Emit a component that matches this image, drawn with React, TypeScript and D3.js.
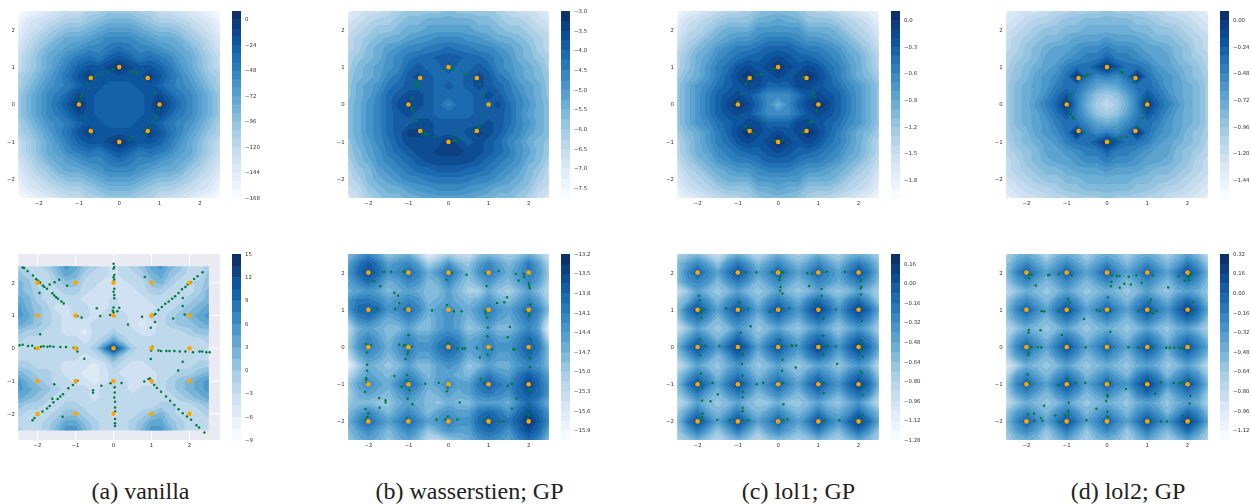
import React, { useMemo } from 'react';
import * as d3 from 'd3';

// critic values, one char per grid point = index of the contour band (base 36)
// rows run from y=2.5 down to y=-2.5, columns from x=-2.5 to x=2.5, step 0.25
const vanillaRing = [
  '0123455778' + '8' + '8775543210',
  '134567789a' + 'a' + 'a987765431',
  '2457899abc' + 'c' + 'cba9987542',
  '3578abbcde' + 'e' + 'edcbba8753',
  '468abcdeef' + 'g' + 'feedcba864',
  '579bcefgfh' + 'i' + 'hfgfecb975',
  '579bdfhiij' + 'l' + 'jiihfdb975',
  '78acegikii' + 'i' + 'iikigeca87',
  '79bdefhiih' + 'h' + 'hiihfedb97',
  '8acefhjihh' + 'h' + 'hhijhfeca8',
  '8acegilihh' + 'h' + 'hhiligeca8',
  '8acefhjihh' + 'h' + 'hhijhfeca8',
  '79bdefhiih' + 'h' + 'hiihfedb97',
  '78acegikii' + 'i' + 'iikigeca87',
  '579bdfhiij' + 'l' + 'jiihfdb975',
  '579bcefgfh' + 'i' + 'hfgfecb975',
  '468abcdeef' + 'g' + 'feedcba864',
  '3578abbcde' + 'e' + 'edcbba8753',
  '2457899abc' + 'c' + 'cba9987542',
  '134567789a' + 'a' + 'a987765431',
  '0123455778' + '8' + '8775543210',
];
const wassersteinRing = [
  '2344567777' + '8' + '7777654432',
  '3456678899' + '9' + '9988766543',
  '45677899aa' + 'a' + 'aa99877654',
  '567899abbc' + 'c' + 'cbba998765',
  '5689abccdd' + 'e' + 'ddccba9865',
  '6789bcdeef' + 'f' + 'feedcb9876',
  '689abcefee' + 'g' + 'eefecba986',
  '789acdfgfe' + 'e' + 'efgfdca987',
  '79abdefffe' + 'f' + 'efgfedba97',
  '79acefggfe' + 'e' + 'eefgfdca97',
  '89bceghgfe' + 'c' + 'eeffgecb98',
  '89bcefgffe' + 'e' + 'eefffeca98',
  '89bceffggf' + 'f' + 'fffgfecb98',
  '89bcefhhgf' + 'f' + 'fghgfdca98',
  '79acdfgggg' + 'i' + 'gfgfecb987',
  '78abdefggh' + 'h' + 'hggfedba87',
  '689bcdefgg' + 'g' + 'ggfedcb986',
  '578abcdeef' + 'f' + 'feedcba875',
  '5689abccdd' + 'd' + 'ddccba9865',
  '457899abbc' + 'c' + 'cbba998754',
  '34678899aa' + 'a' + 'aa99887643',
];
const lol1Ring = [
  '1234566789' + '9' + '9876654321',
  '24567888aa' + 'b' + 'aa88876542',
  '35679aaacc' + 'c' + 'ccaaa97653',
  '4679abccde' + 'e' + 'edccba9764',
  '579acdeefg' + 'g' + 'gfeedca975',
  '68abdefggh' + 'i' + 'hggfedba86',
  '68acefhihi' + 'k' + 'ihihfeca86',
  '79acegikih' + 'i' + 'hikigeca97',
  '8acdfghiig' + 'g' + 'giihgfdca8',
  '8aceghihfd' + 'd' + 'dfhihgeca8',
  '8acegikigd' + 'a' + 'dgikigeca8',
  '8aceghihfd' + 'd' + 'dfhihgeca8',
  '8acdfghiig' + 'g' + 'giihgfdca8',
  '79acegikih' + 'i' + 'hikigeca97',
  '68acefhihi' + 'k' + 'ihihfeca86',
  '68abdefggh' + 'i' + 'hggfedba86',
  '579acdeefg' + 'g' + 'gfeedca975',
  '4679abccde' + 'e' + 'edccba9764',
  '35679aaacc' + 'c' + 'ccaaa97653',
  '24567888aa' + 'b' + 'aa88876542',
  '1234566789' + '9' + '9876654321',
];
const lol2Ring = [
  '2344566777' + '8' + '7776654432',
  '3456678899' + '9' + '9988766543',
  '45678899aa' + 'a' + 'aa99887654',
  '567899abbb' + 'c' + 'bbba998765',
  '5689abbcdd' + 'e' + 'ddcbba9865',
  '6789bbcdee' + 'g' + 'eedcbb9876',
  '689abceffh' + 'k' + 'hffecba986',
  '789bcdfkfd' + 'e' + 'dfkfdcb987',
  '79abceffdb' + 'a' + 'bdffecba97',
  '79abdfheb8' + '7' + '8behfdba97',
  '79acegkea7' + '5' + '7aekgeca97',
  '79abdfheb8' + '7' + '8behfdba97',
  '79abceffdb' + 'a' + 'bdffecba97',
  '789bcdfkfd' + 'e' + 'dfkfdcb987',
  '689abceffh' + 'k' + 'hffecba986',
  '6789bbcdee' + 'g' + 'eedcbb9876',
  '5689abbcdd' + 'e' + 'ddcbba9865',
  '567899abbb' + 'c' + 'bbba998765',
  '45678899aa' + 'a' + 'aa99887654',
  '3456678899' + '9' + '9988766543',
  '2344566777' + '8' + '7776654432',
];
const vanillaGrid = [
  '544579865434568976445',
  '654468754434457865446',
  '764456644333446754456',
  '765445543333345544457',
  '875444433343334444567',
  '976533443343333445678',
  '986543443444334456789',
  '876543334444323456678',
  '655443324454433444566',
  '544444434585444444445',
  '444444445afa544444444',
  '444444434585444444444',
  '554443332354334444455',
  '765543322343333445567',
  '976544332344333456789',
  '987654443444344456789',
  '876544443444444445678',
  '655445544444444554456',
  '544456654434456754445',
  '444568865444568865444',
  '544579975444579975444',
];
const wassersteinGrid = [
  '8aca78962465478767974',
  'adfdabca68b87aca8ada6',
  'begebcec9beb8bdb9bdb7',
  'acec9acb89c979b98aca6',
  '9aba89a988a8669768a85',
  'bddcabcb89a989b98aca6',
  'befebcec9aca9bdbacec8',
  '8cdb9aca8aba8aca9bdb5',
  '59a988a88aba78a88aca2',
  '6aca8acaacdc9acaacec5',
  '7bdb9bdbbdfdabdbbdfd8',
  '59ba8acaacdc9acaacec8',
  '169878a88aba78a99bcb8',
  '58a98aca8aa98bdbadfda',
  '7aca9cec9acaadfdceheb',
  '69a98aca89a9acdcbefeb',
  '788779a987988aaa9cec9',
  '8aca8aca8abaadedbegeb',
  '9cecacecabdbbegedfifc',
  '8aca8aca79baadedbegea',
  '79a979a855789bcbacec8',
];
const lol1Grid = [
  '678647975797679768986',
  '8aca7bdb8aca8aca8bdb8',
  '8cfcadgdacfcacfcadgd9',
  '8bcb8bdb8aca8acb9bdb8',
  '47a878a878a878a878a86',
  '79db8bdb8bdb9cec9ceb7',
  '8dgdadgdadgdbehebehea',
  '7bdb8bdb8bdb9cec9cec8',
  '47a878b978a879b979b96',
  '7adb8beb8bdb9cec9cec8',
  '9dgdbeheadgdbehebehea',
  '7adb8bec8bdb9cec9cec8',
  '47a879b978a878a979b95',
  '7adb8bdb8aca8bdb9cec7',
  '8dgdadgdacfcadgdbehe9',
  '7ada8bdb8aca8bdb9cec7',
  '57a878a8779778a879b85',
  '7ada8ada8aca8ada9beb8',
  '8dgdadgdacfcadgdbehea',
  '7ada7ada7aca8ada8beb7',
  '679757975787679768a86',
];
const lol2Grid = [
  '689858986898689868a85',
  '7aca8aca8aca8aca8adb7',
  '8cfcacfcacfcacfcadgd9',
  '7aca8aca8aca8aca8bdb8',
  '579878a8789878a879a97',
  '7aca8bdb8aca8bdb9cec8',
  '8cfcadgdacfcadgdbehea',
  '7aca8bdb8aca8bdb9cec8',
  '579878a8789878a879a86',
  '6aca8bdb8aca8bdb8bdb8',
  '7cfcadgdacfcadgdadgda',
  '6aca8bdb8aca8bdb8bdb8',
  '369878a8789879a978a85',
  '5aca8bdb8aca8cec8bdb7',
  '7cfcadgdacfcbehebdgd9',
  '6aca8bdb8aca8cec8bdb7',
  '479878a8789879a979a96',
  '7aca8bdb8aca8bdb8bec8',
  '8cfcadgdacfcadgdbehea',
  '7aca7ada7aca7ada8beb7',
  '689868a8689868a868a86',
];

// generated samples (green)
const vanillaRingPts = [[-.79,.57],[-.6,.75],[-.58,.77],[-.45,.81],[-.27,.89],[-.16,.94],[.28,.89],[.4,.85],[.43,.83],[.89,.3],[-.92,.26],[-.94,.21],[-.98,.11],[-.86,-.39],[.98,-.14],[.91,-.29],[.88,-.38],[.83,-.49],[.76,-.63],[.63,-.77],[.33,-.88],[.23,-.94],[-.68,-.76]];
const wassersteinRingPts = [[-.91,.17],[-.91,-.1],[-.89,-.17],[-.85,-.33],[-.81,-.44],[-.65,-.75],[-.59,-.78],[-.53,-.8],[-.34,-.87],[.15,-.71],[.14,-.97],[.18,-.96],[.28,-.9],[.64,-.75],[.75,-.62],[.79,-.49],[.88,-.27],[.88,.26],[.77,.54],[.49,.79],[.39,.84],[.13,.94],[.09,.96],[-.13,.94],[-.74,.58],[-.78,.54],[-.8,.46],[-.79,.5]];
const lol1RingPts = [[-.08,.96],[-.53,.78],[-.43,.8],[-.77,.64],[-.8,.54],[.4,.84],[.62,.73],[.86,.3],[.91,.21],[.96,-.15],[.83,-.44],[.81,-.48],[.62,-.74],[-.91,.26],[-.99,.08],[-.93,-.28],[-.8,-.59],[-.77,-.67],[-.63,-.77],[-.39,-.44],[-.08,-.97],[.11,-.94]];
const lol2RingPts = [[-.57,.75],[-.52,.79],[-.47,.8],[.13,.95],[.33,.89],[.38,.86],[.66,.6],[.98,.15],[.99,.08],[.95,-.14],[.88,-.37],[.78,-.6],[.48,-.86],[.33,-.88],[.23,-.93],[.08,-1.01],[-.59,-.76],[-.83,-.38],[-.86,-.35],[-.89,-.26],[-.96,-.12],[-.94,.15],[-.88,.29]];
const vanillaGridPts = [[-2.39,2.47],[-2.35,2.45],[-2.26,2.36],[-2.12,2.22],[-2.04,2.12],[-2,2.08],[-1.96,2.03],[-1.93,2],[-1.86,1.92],[-1.82,1.87],[-1.75,1.82],[-1.61,1.68],[-1.56,1.61],[-1.51,1.56],[-1.46,1.51],[-1.37,1.43],[-1.31,1.37],[-1.68,1.95],[-1.55,2.02],[-1.43,2.09],[-1.22,1.91],[-1.95,1.69],
  [0,2.58],[.02,2.48],[0,2.43],[.02,2.24],[0,2.17],[.02,2.1],[0,2.04],[.02,1.82],[0,1.73],[.02,1.63],[.02,1.53],[0,1.25],[-.02,1.15],[0,1.1],[.15,1.24],[.1,1.13],[-.09,1.02],[-.44,1.22],[-.35,.99],[-.84,.94],[-.95,.99],[.38,.73],[.75,.96],
  [2.34,2.32],[2.21,2.2],[2.12,2.12],[2.04,2.02],[1.95,1.95],[1.89,1.87],[1.8,1.8],[1.71,1.69],[1.62,1.59],[1.54,1.51],[1.45,1.43],[1.36,1.36],[1.27,1.26],[1.18,1.17],[1.1,1.05],[1.05,1.02],[.99,.98],[.82,2.18],[1.82,1.54],[1.82,1.29],[1.87,1.03],[1.57,.91],[1.09,.8],[.98,.63],
  [-2.47,.09],[-2.39,.11],[-2.25,.07],[-2.14,.08],[-2.06,0],[-1.91,.05],[-1.84,.06],[-1.74,.05],[-1.67,.06],[-1.58,.05],[-1.4,.04],[-1.25,.04],[-1.05,.02],[-.96,0],[-.95,-.1],[-1.93,.43],[-.77,-.32],
  [.99,-.07],[1.02,.05],[1.18,-.07],[1.25,-.08],[1.39,-.08],[1.47,-.08],[1.6,-.08],[1.74,-.1],[1.89,-.1],[2.09,-.12],[2.26,-.1],[2.33,-.1],[2.44,-.12],[2.53,-.12],[.98,-.33],[1.82,-.41],[1.7,-.68],
  [.81,-1.01],[.92,-.94],[.96,-.92],[1.01,-1.04],[1.07,-1.12],[1.14,-1.21],[1.25,-1.33],[1.38,-1.47],[1.49,-1.6],[1.6,-1.73],[1.71,-1.86],[1.82,-1.98],[1.93,-2.08],[2.04,-2.18],[2.18,-2.35],[2.25,-2.42],[2.39,-2.57],
  [.03,-1.19],[.03,-1.35],[.02,-1.5],[.04,-1.63],[.04,-1.81],[.04,-1.93],[.04,-2.16],[.04,-2.29],[.04,-2.37],[-.08,-1.07],[.21,-1.06],[-.32,-1.14],[-.54,-1.28],[-.54,-1.36],
  [-.95,-.99],[-1,-1.04],[-1.07,-1.12],[-1.19,-1.22],[-1.33,-1.4],[-1.4,-1.47],[-1.47,-1.55],[-1.61,-1.54],[-1.58,-1.65],[-1.68,-1.76],[-1.75,-1.84],[-1.87,-1.93],[-2,-2.04],[-2.08,-2.13],[-2.13,-2.2],[-1.56,-1.1],[-1.34,-2.09]];
const wassersteinGridPts = [[-1.87,1.99],[-1.61,2.02],[-1.43,2.02],[-1.86,1.77],[-1.7,1.63],[-1.13,2.03],[-1.08,2.02],[-.05,1.81],[.09,1.99],[.03,2],[.45,1.94],[.93,1.99],[1.25,2.04],[.95,1.64],[1.68,1.96],[1.88,1.96],[1.88,1.88],[1.75,1.79],[2.01,1.71],[2.01,1.64],[2.03,1.58],[-1.35,1.45],[-1.26,1.38],[-1.23,1.18],[-1.33,1.02],[-1.78,1.04],[-1.09,1.02],[-.41,.98],[-.04,1.13],[.13,.96],[.33,.96],[1.46,1.34],[1.39,1.2],[1.21,1.18],[.93,.97],[.93,.9],[.96,.79],[2.05,1.14],[1.93,.96],[2.03,.88],[2.01,.83],[.98,.52],[1.53,.54],[.97,.29],[1.48,.26],[2.05,.21],[-1,.32],[-1.23,.06],[-1.11,.04],[-1.07,.05],[-.92,.01],[-1.01,-.12],[-1.02,-.18],[-1.07,-.32],[-2.05,.08],[-2.03,.03],[-1.94,.05],[-2.04,-.15],[-.02,.1],[.22,-.04],[.35,-.04],[.41,-.04],[.71,-.03],[1.08,-.06],[.98,-.21],[.78,-.28],[1.62,-.07],[1.65,-.06],[2.03,-.04],[2.05,-.14],[2.03,-.31],[2.03,-.54],[-2.03,-.48],[-2.03,-.64],[-2.05,-.84],[-2.06,-.89],[-2.04,-.97],[-2.08,-1.2],[-1.35,-.78],[-1.04,-.75],[-1.05,-.91],[-1.01,-.95],[-1.17,-1.07],[-.98,-1.16],[-.58,-.99],[-.24,-.96],[-.04,-1.19],[-.02,-1.09],[.81,-.87],[.88,-.97],[1.48,-1.04],[1.58,-.99],[2.03,-1.13],[2.02,-1.18],[1.7,-1.38],[2,-1.55],[1.58,-1.65],[-1.02,-1.39],[-.9,-1.54],[-1.73,-1.37],[-1.57,-1.43],[-1.57,-1.49],[-1.72,-1.63],[.28,-1.49],[-2.07,-1.67],[-2,-1.79],[-2.03,-1.89],[-2.07,-1.96],[-1.03,-1.93],[-.99,-1.97],[-.3,-1.95],[-.08,-1.95],[-.02,-1.87],[.22,-1.95],[.88,-1.96],[.94,-1.97],[1.23,-1.98],[1.38,-2],[1.98,-1.78],[2,-1.84],[1.98,-1.93]];
const lol1GridPts = [[-.8,2],[-.54,2.01],[-.15,2.01],[.07,2.01],[.12,2],[.73,1.98],[.85,1.96],[1.21,2.02],[1.66,2.02],[2.06,1.79],[2.07,1.62],[2.05,1.57],[2.06,1.41],[.05,1.88],[.04,1.8],[.06,1.61],[.05,1.51],[.11,1.44],[.77,1.64],[1.08,1.56],[1.08,1.38],[-1.96,1.38],[-1.94,1.25],[-.95,1.2],[.89,1.16],[-1.91,1.01],[-1.84,1],[-1.91,.92],[-1.91,.78],[-1.29,1.04],[-.93,1.04],[-.74,1.03],[-.2,.95],[.28,1.04],[.09,1.02],[1.12,.76],[1.44,1.01],[2.08,.7],[2.07,1.06],[-.68,.56],[-.93,.38],[-1.94,.21],[-1.81,.04],[-1.46,.03],[-1.93,-.22],[-.84,.04],[-.89,-.18],[-.89,-.21],[-.9,-.46],[.06,.19],[.08,.03],[.33,.04],[.35,.04],[.45,.04],[.11,-.34],[.44,-.55],[1.12,.3],[1.1,.05],[1.22,.04],[1.44,.02],[1.12,-.21],[1.47,-.46],[2.07,.18],[2.1,.03],[2.1,-.26],[2.05,-.1],[.1,-.64],[-1.91,-.71],[-.89,-.77],[2.06,-.66],[2.09,-.71],[-1.91,-.94],[-1.89,-1.11],[-1.63,-.96],[-.53,-1],[-.37,-.96],[.12,-.96],[-.88,-.97],[-.88,-1.21],[-.88,-1.35],[-1.5,-1.27],[-1.89,-1.44],[-1.68,-1.46],[1.13,-1.24],[2.1,-1.29],[2.11,-1.09],[1.13,-.96],[.13,-1.54],[-.88,-1.64],[-.88,-1.73],[-1.88,-1.79],[-1.89,-1.88],[-1.87,-1.96],[-1.51,-1.96],[-1.19,-1.96],[-.87,-1.96],[-.74,-1.97],[.13,-1.96],[.23,-1.94],[1.15,-1.96],[1.52,-1.97],[2.1,-1.82],[1.92,-1.99],[2.1,-2]];
const lol2GridPts = [[-1.93,1.94],[-1.87,1.94],[-1.93,1.85],[-1.77,1.65],[-1.46,1.93],[-1.43,1.94],[-1.2,1.95],[-.88,1.93],[.12,1.93],[.24,1.91],[.31,1.91],[.54,1.89],[.73,1.92],[.11,1.75],[.1,1.63],[.32,1.59],[.43,1.7],[.59,1.68],[.86,1.73],[1.13,1.92],[1.78,1.9],[2.08,1.97],[2.09,1.93],[2.03,1.87],[1.93,1.78],[2.04,1.8],[1.52,1.6],[.03,1.33],[-.97,1.29],[-.92,1.21],[1.09,1.28],[1.06,1.21],[-1.63,.96],[-1.56,.96],[-1.2,.96],[-.9,.97],[-.26,.99],[-.18,.97],[.09,.96],[.78,.96],[1.08,.95],[1.14,.9],[1.24,.96],[2.13,1.21],[2.1,.91],[-.57,.75],[-1.94,.46],[-1.95,.38],[-1.65,.45],[-1.12,.32],[.08,.41],[-1.88,0],[-1.72,-.01],[-1.63,-.01],[-.53,-.01],[.08,-.01],[.53,-.01],[.78,-.02],[1.13,-.02],[1.47,-.02],[1.56,-.02],[1.67,-.02],[1.81,-.04],[1.87,-.04],[-1.94,-.14],[-1.95,-.21],[-1.97,-.73],[-1.94,-.96],[-.97,-.84],[-.98,-.93],[-1.2,-1.03],[-.78,-.96],[-.54,-.96],[.08,-.96],[.96,-.96],[1.34,-.95],[1.66,-.97],[1.81,-.97],[1.87,-.96],[2.05,-.88],[.01,-1.3],[.02,-1.33],[-.02,-1.45],[.47,-1.13],[1.2,-1.26],[2.07,-1.32],[2.05,-1.52],[-1.56,-1.58],[-.95,-1.5],[-.26,-1.66],[.01,-1.74],[-1.95,-1.81],[-1.81,-1.79],[-1.64,-1.91],[-1.6,-1.98],[-1.81,-1.98],[-1.28,-1.84],[-1.05,-1.84],[-.96,-1.73],[-.96,-1.82],[-1.18,-2.03],[-.51,-1.97],[.03,-1.88],[1.09,-1.97],[1.34,-2],[1.49,-2],[1.88,-1.85],[2.08,-1.97]];

// true modes (orange)
const ringModes = [[1,0],[.707,.707],[0,1],[-.707,.707],[-1,0],[-.707,-.707],[0,-1],[.707,-.707]];
const gridModes = [-2,-1,0,1,2].flatMap(x => [-2,-1,0,1,2].map(y => [x, y]));

const axisTicks = [-2,-1,0,1,2];
const captions = ['(a) vanilla', '(b) wasserstien; GP', '(c) lol1; GP', '(d) lol2; GP'];
const captionCenters = [140.5, 469.5, 798.5, 1128];

const columnX = [[18.5,220],[348.3,548.7],[677.5,878.7],[1006.3,1207.7]];
const colorbarX = [232,561,891,1220];
const rowY = [[198,11],[440,254]];

const panels = [
  { col:0,row:0,grid:vanillaRing,pts:vanillaRingPts,modes:ringModes,bar:[-168,8],bands:22,ticks:[0,-24,-48,-72,-96,-120,-144,-168],fmt:'.0f' },
  { col:1,row:0,grid:wassersteinRing,pts:wassersteinRingPts,modes:ringModes,bar:[-7.75,-3],bands:19,ticks:[-3,-3.5,-4,-4.5,-5,-5.5,-6,-6.5,-7,-7.5],fmt:'.1f' },
  { col:2,row:0,grid:lol1Ring,pts:lol1RingPts,modes:ringModes,bar:[-2,.1],bands:21,ticks:[0,-.3,-.6,-.9,-1.2,-1.5,-1.8],fmt:'.1f' },
  { col:3,row:0,grid:lol2Ring,pts:lol2RingPts,modes:ringModes,bar:[-1.6,.08],bands:21,ticks:[0,-.24,-.48,-.72,-.96,-1.2,-1.44],fmt:'.2f' },
  { col:0,row:1,grid:vanillaGrid,pts:vanillaGridPts,modes:gridModes,bar:[-9,15],bands:16,ticks:[15,12,9,6,3,0,-3,-6,-9],fmt:'.0f',xDomain:[-2.5,2.8],yDomain:[-2.8,2.88],dark:true },
  { col:1,row:1,grid:wassersteinGrid,pts:wassersteinGridPts,modes:gridModes,bar:[-16.05,-13.2],bands:19,ticks:[-13.2,-13.5,-13.8,-14.1,-14.4,-14.7,-15,-15.3,-15.6,-15.9],fmt:'.1f' },
  { col:2,row:1,grid:lol1Grid,pts:lol1GridPts,modes:gridModes,bar:[-1.28,.24],bands:19,ticks:[.16,0,-.16,-.32,-.48,-.64,-.8,-.96,-1.12,-1.28],fmt:'.2f' },
  { col:3,row:1,grid:lol2Grid,pts:lol2GridPts,modes:gridModes,bar:[-1.2,.32],bands:19,ticks:[.32,.16,0,-.16,-.32,-.48,-.64,-.8,-.96,-1.12],fmt:'.2f' },
];

const FONT = 'DejaVu Sans';
const LABEL = '#333';

const Panel = ({ p, i }: { p: any; i: number }) => {
  const xDomain = p.xDomain || [-2.5, 2.5];
  const yDomain = p.yDomain || [-2.5, 2.5];
  const x = d3.scaleLinear().domain(xDomain).range(columnX[p.col]);
  const y = d3.scaleLinear().domain(yDomain).range(rowY[p.row]);
  const barY = d3.scaleLinear().domain(p.bar).range(rowY[p.row]);
  const bandColor = (k: number) => d3.interpolateBlues(k / (p.bands - 1));
  const bandStep = (p.bar[1] - p.bar[0]) / p.bands;
  const tickFmt = d3.format(p.fmt);

  const filled = useMemo(() => {
    const n = p.grid.length;
    const values = p.grid.flatMap((row: string) => row.split('').map(c => parseInt(c, 36) + 0.5));
    const contours = d3.contours().size([n, n]).thresholds(d3.range(1, p.bands))(values);
    // d3.contours puts grid point j at j + 0.5
    const path = d3.geoPath(d3.geoTransform({
      point(px: number, py: number) {
        this.stream.point(x(-2.5 + (px - 0.5) * 0.25), y(2.5 - (py - 0.5) * 0.25));
      },
    }));
    return contours.map(c => ({ k: c.value, d: path(c as any) }));
  }, [p]);

  const clipId = `clip-${i}`;
  const x0 = x(-2.5), x1 = x(2.5), y0 = y(2.5), y1 = y(-2.5);

  return (
    <g>
      <clipPath id={clipId}><rect x={x0} y={y0} width={x1 - x0} height={y1 - y0} /></clipPath>
      {p.dark && (
        <g>
          <rect x={x.range()[0]} y={y.range()[1]} width={x.range()[1] - x.range()[0]} height={y.range()[0] - y.range()[1]} fill="#EAEAF2" />
          {axisTicks.map(t => <line key={`gx${t}`} x1={x(t)} x2={x(t)} y1={y.range()[0]} y2={y.range()[1]} stroke="#fff" strokeWidth={1} />)}
          {axisTicks.map(t => <line key={`gy${t}`} x1={x.range()[0]} x2={x.range()[1]} y1={y(t)} y2={y(t)} stroke="#fff" strokeWidth={1} />)}
        </g>
      )}
      <g clipPath={`url(#${clipId})`}>
        <rect x={x0} y={y0} width={x1 - x0} height={y1 - y0} fill={bandColor(0)} />
        {filled.map(c => <path key={c.k} d={c.d || ''} fill={bandColor(c.k)} />)}
      </g>
      {p.pts.map((d: number[], j: number) => <circle key={j} cx={x(d[0])} cy={y(d[1])} r={1.25} fill="#007d3a" />)}
      {p.modes.map((d: number[], j: number) => <circle key={j} cx={x(d[0])} cy={y(d[1])} r={2.3} fill="#ffa500" />)}

      {axisTicks.map(t => (
        <text key={`x${t}`} x={x(t)} y={y.range()[0] + 7.2} textAnchor="middle" fontFamily={FONT} fontSize={5.4} fill={LABEL}>{d3.format('d')(t)}</text>
      ))}
      {axisTicks.map(t => (
        <text key={`y${t}`} x={x.range()[0] - 3.5} y={y(t) + 1.9} textAnchor="end" fontFamily={FONT} fontSize={5.4} fill={LABEL}>{d3.format('d')(t)}</text>
      ))}

      {d3.range(p.bands).map(k => {
        const top = barY(p.bar[0] + (k + 1) * bandStep);
        const bot = barY(p.bar[0] + k * bandStep);
        return <rect key={k} x={colorbarX[p.col]} y={top} width={9} height={bot - top + 0.4} fill={bandColor(k)} />;
      })}
      {p.ticks.map((t: number) => (
        <text key={t} x={colorbarX[p.col] + 13} y={barY(t) + 1.9} fontFamily={FONT} fontSize={5.4} fill={LABEL}>{tickFmt(t)}</text>
      ))}
    </g>
  );
};

const App = () => (
  <svg width={1251} height={504} style={{ position: 'absolute', left: 0, top: 0, display: 'block', background: '#fff' }}>
    <defs>
      <filter id="soft" filterUnits="userSpaceOnUse" x={0} y={0} width={1251} height={470}>
        <feGaussianBlur stdDeviation={0.5} />
      </filter>
    </defs>
    <g filter="url(#soft)">
      {panels.map((p, i) => <Panel key={i} p={p} i={i} />)}
    </g>
    {captions.map((c, i) => (
      <text key={c} x={captionCenters[i]} y={498.6} textAnchor="middle" fontFamily="Liberation Serif" fontSize={24} fill="#222">{c}</text>
    ))}
  </svg>
);

export default App;
